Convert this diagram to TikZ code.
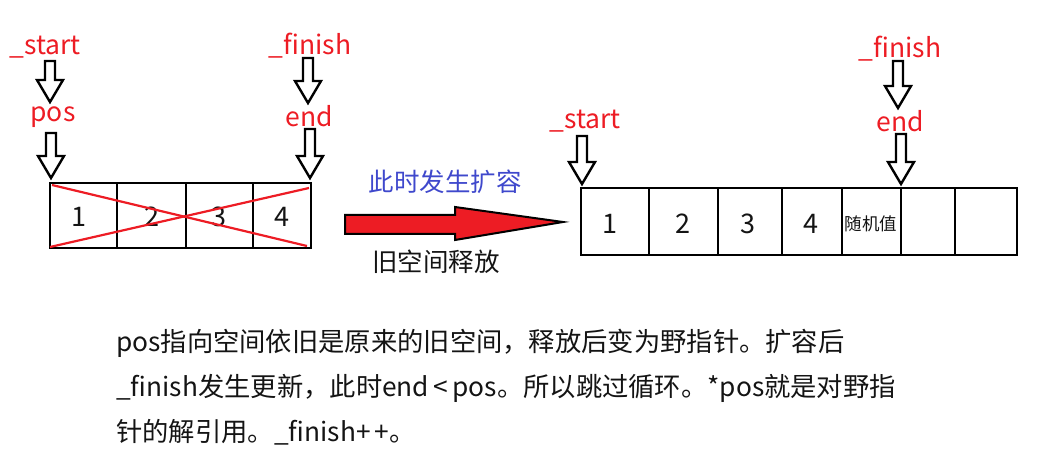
\documentclass[tikz,border=0pt]{standalone}
\usepackage{fontspec}
\setmainfont{Noto Sans CJK SC}
\definecolor{lblred}{RGB}{237,28,36}
\definecolor{lblblue}{RGB}{63,72,204}
\definecolor{txt}{RGB}{20,20,20}
\tikzset{
  box/.style={draw=black,line width=2.8pt},
  harrowstyle/.style={draw=black,line width=2.4pt,fill=white,line join=miter},
  lbl/.style={text=lblred,font=\fontsize{26.5}{30}\selectfont,inner sep=0pt},
  num/.style={text=txt,font=\fontsize{27}{30}\selectfont,inner sep=0pt},
  small/.style={text=txt,font=\fontsize{17.5}{20}\selectfont,inner sep=0pt},
  para/.style={text=txt,font=\fontsize{26.3}{30}\selectfont,inner sep=0pt,anchor=base west},
  cross/.style={draw=lblred,line width=2.2pt},
}
\newcommand\harrow[3]{%
  \draw[harrowstyle] (#1-5,#2) -- (#1+5,#2) -- (#1+5,#3-22) -- (#1+13,#3-22) -- (#1,#3) -- (#1-13,#3-22) -- (#1-5,#3-22) -- cycle;}
\begin{document}
\begin{tikzpicture}[x=1pt,y=-1pt]
\useasboundingbox (0,0) rectangle (1050,462);
% ---- left array ----
\draw[box] (50,183) rectangle (311,248);
\foreach \xx in {117,186,253} \draw[box] (\xx,183) -- (\xx,248);
\node[num] (l1) at (79,217) {1};
\node[num] (l2) at (152,217) {2};
\node[num] (l3) at (219,217) {3};
\node[num] (l4) at (282,217) {4};
\draw[cross] (52,185) -- (307,246);
\draw[cross] (50,247) -- (309,188);
% labels left
\node[lbl] (ls) at (45,47) {\_start};
\node[lbl] (lp) at (53,117) {pos};
\node[lbl] (lf) at (310,46) {\_finish};
\node[lbl] (le) at (309,116) {end};
\harrow{50}{61}{102}
\harrow{51}{133}{178}
\harrow{308}{58}{103}
\harrow{310}{129}{178}
% ---- middle ----
\node[text=lblblue,font=\fontsize{25.5}{28}\selectfont,inner sep=0pt] (grow) at (445,182) {此时发生扩容};
\draw[draw=black,line width=2pt,fill=lblred,line join=miter] (345,215) -- (455,215) -- (455,207) -- (563,222) -- (455,240) -- (455,234) -- (345,234) -- cycle;
\node[text=txt,font=\fontsize{25.5}{28}\selectfont,inner sep=0pt] (free) at (436,262) {旧空间释放};
% ---- right array ----
\draw[box] (581,188) rectangle (1017,255);
\foreach \xx in {649,718,782,842,901,955} \draw[box] (\xx,188) -- (\xx,255);
\node[num] (r1) at (610,224) {1};
\node[num] (r2) at (683,224) {2};
\node[num] (r3) at (748,224) {3};
\node[num] (r4) at (811,224) {4};
\node[small] (r5) at (871,224) {随机值};
\node[lbl] (rs) at (585,121) {\_start};
\node[lbl] (rf) at (900,49) {\_finish};
\node[lbl] (re) at (900,121) {end};
\harrow{582}{136}{184}
\harrow{898}{61}{108}
\harrow{901}{134}{184}
% ---- paragraph ----
\node[para] (p1) at (116,352) {pos指向空间依旧是原来的旧空间，释放后变为野指针。扩容后};
\node[para] (p2) at (116,396) {\_finish发生更新，此时end\,<\,pos。所以跳过循环。*pos就是对野指};
\node[para] (p3) at (116,441) {针的解引用。\_finish+\,+。};
\end{tikzpicture}
\end{document}
